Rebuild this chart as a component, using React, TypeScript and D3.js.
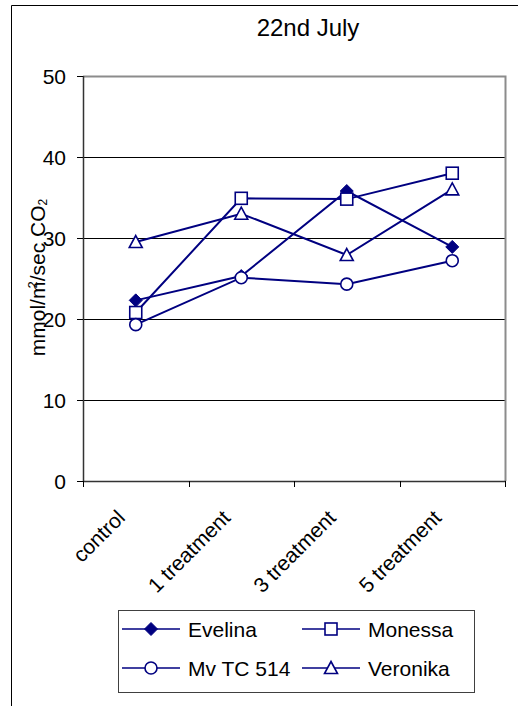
import React from "react";
import * as d3 from "d3";

const categories = ["control", "1 treatment", "3 treatment", "5 treatment"];
const seriesNames = ["Evelina", "Monessa", "Mv TC 514", "Veronika"];
const evelina = [22.3, 25.3, 35.8, 28.9];
const monessa = [20.8, 34.9, 34.8, 38.0];
const mvTC514 = [19.3, 25.1, 24.3, 27.2];
const veronika = [29.5, 33.0, 27.9, 36.0];
const yTicks = [0, 10, 20, 30, 40, 50];
const title = "22nd July";

const W = 518;
const H = 706;
const plot = { left: 83, right: 505, top: 76, bottom: 481 };
const NAVY = "#000080";
const FONT = "'Liberation Sans', Arial, sans-serif";
const FS = 21;

type MarkerKind = "diamond" | "square" | "circle" | "triangle";
const seriesData: { name: string; values: number[]; marker: MarkerKind }[] = [
  { name: seriesNames[0], values: evelina, marker: "diamond" },
  { name: seriesNames[1], values: monessa, marker: "square" },
  { name: seriesNames[2], values: mvTC514, marker: "circle" },
  { name: seriesNames[3], values: veronika, marker: "triangle" },
];

function Marker({ kind, x, y }: { kind: MarkerKind; x: number; y: number }) {
  const sw = 1.6;
  switch (kind) {
    case "diamond":
      return (
        <path
          d={`M${x},${y - 6.5}L${x + 6.5},${y}L${x},${y + 6.5}L${x - 6.5},${y}Z`}
          fill={NAVY}
          stroke={NAVY}
          strokeWidth={1}
        />
      );
    case "square":
      return (
        <rect x={x - 6} y={y - 6} width={12} height={12} fill="white" stroke={NAVY} strokeWidth={sw} />
      );
    case "circle":
      return <circle cx={x} cy={y} r={6} fill="white" stroke={NAVY} strokeWidth={sw} />;
    case "triangle":
      return (
        <path
          d={`M${x},${y - 6.5}L${x + 6.5},${y + 5.5}L${x - 6.5},${y + 5.5}Z`}
          fill="white"
          stroke={NAVY}
          strokeWidth={sw}
        />
      );
  }
}

export default function App() {
  const x = d3.scaleBand<string>().domain(categories).range([plot.left, plot.right]);
  const y = d3.scaleLinear().domain([0, 50]).range([plot.bottom, plot.top]);
  const cx = (c: string) => (x(c) ?? 0) + x.bandwidth() / 2;
  const line = d3
    .line<number>()
    .x((_, i) => cx(categories[i]))
    .y((v) => y(v));

  const catTicks = [...categories.map((c) => x(c) ?? 0), plot.right];

  const legendItems = [
    { s: seriesData[0], lx: 122, ly: 629 },
    { s: seriesData[1], lx: 302, ly: 629 },
    { s: seriesData[2], lx: 122, ly: 668 },
    { s: seriesData[3], lx: 302, ly: 668 },
  ];

  return (
    <svg
      width={W}
      height={H}
      style={{ position: "absolute", left: 0, top: 0, background: "white" }}
      fontFamily={FONT}
    >
      <rect x={0} y={0} width={W} height={H} fill="white" />
      {/* outer chart frame */}
      <path d={`M${W + 5},5.5H11.5V${H + 5}`} fill="none" stroke="black" strokeWidth={1} />

      <text x={308} y={36} textAnchor="middle" fontSize={24}>
        {title}
      </text>

      {/* gridlines */}
      {yTicks
        .filter((t) => t > 0 && t < 50)
        .map((t) => (
          <line
            key={t}
            x1={plot.left}
            x2={plot.right}
            y1={Math.round(y(t)) + 0.5}
            y2={Math.round(y(t)) + 0.5}
            stroke="black"
            strokeWidth={1}
          />
        ))}
      {/* plot frame: grey top/right */}
      <path
        d={`M${plot.left},${plot.top + 0.5}H${plot.right + 0.5}V${plot.bottom}`}
        fill="none"
        stroke="#8c8c8c"
        strokeWidth={2}
      />
      {/* axes */}
      <line x1={plot.left + 0.5} x2={plot.left + 0.5} y1={plot.top} y2={plot.bottom + 0.5} stroke="#333" strokeWidth={1.5} />
      <line x1={plot.left} x2={plot.right + 1} y1={plot.bottom + 0.5} y2={plot.bottom + 0.5} stroke="#333" strokeWidth={1.5} />

      {yTicks.map((t) => (
        <g key={t}>
          <line
            x1={plot.left - 6}
            x2={plot.left}
            y1={Math.round(y(t)) + 0.5}
            y2={Math.round(y(t)) + 0.5}
            stroke="black"
          />
          <text x={plot.left - 17} y={y(t) + 7.5} textAnchor="end" fontSize={FS}>
            {t}
          </text>
        </g>
      ))}

      {catTicks.map((tx, i) => (
        <line
          key={i}
          x1={Math.round(tx) + 0.5}
          x2={Math.round(tx) + 0.5}
          y1={plot.bottom}
          y2={plot.bottom + 6}
          stroke="black"
        />
      ))}

      {categories.map((c) => (
        <text
          key={c}
          transform={`translate(${cx(c) - 9.5},519) rotate(-45)`}
          textAnchor="end"
          fontSize={FS}
        >
          {c}
        </text>
      ))}

      {/* y-axis title: the superscript sits over the final "m" */}
      <text
        transform={`translate(45,${(plot.top + plot.bottom) / 2 - 1}) rotate(-90)`}
        textAnchor="middle"
        fontSize={FS}
      >
        mmol/m
        <tspan dx={-7} dy={-8} fontSize={13}>
          2
        </tspan>
        <tspan dy={8}>/sec CO</tspan>
        <tspan dy={2} fontSize={12}>
          2
        </tspan>
      </text>

      {seriesData.map((s) => (
        <path key={s.name} d={line(s.values) ?? ""} fill="none" stroke={NAVY} strokeWidth={2} />
      ))}
      {seriesData.map((s) =>
        s.values.map((v, i) => <Marker key={s.name + i} kind={s.marker} x={cx(categories[i])} y={y(v)} />)
      )}

      {/* legend */}
      <rect x={118.5} y={610.5} width={356} height={82} fill="white" stroke="#404040" strokeWidth={1} />
      {legendItems.map(({ s, lx, ly }) => (
        <g key={s.name}>
          <line x1={lx} x2={lx + 58} y1={ly} y2={ly} stroke={NAVY} strokeWidth={1.6} />
          <Marker kind={s.marker} x={lx + 29} y={ly} />
          <text x={lx + 66} y={ly + 7.5} fontSize={FS}>
            {s.name}
          </text>
        </g>
      ))}
    </svg>
  );
}
